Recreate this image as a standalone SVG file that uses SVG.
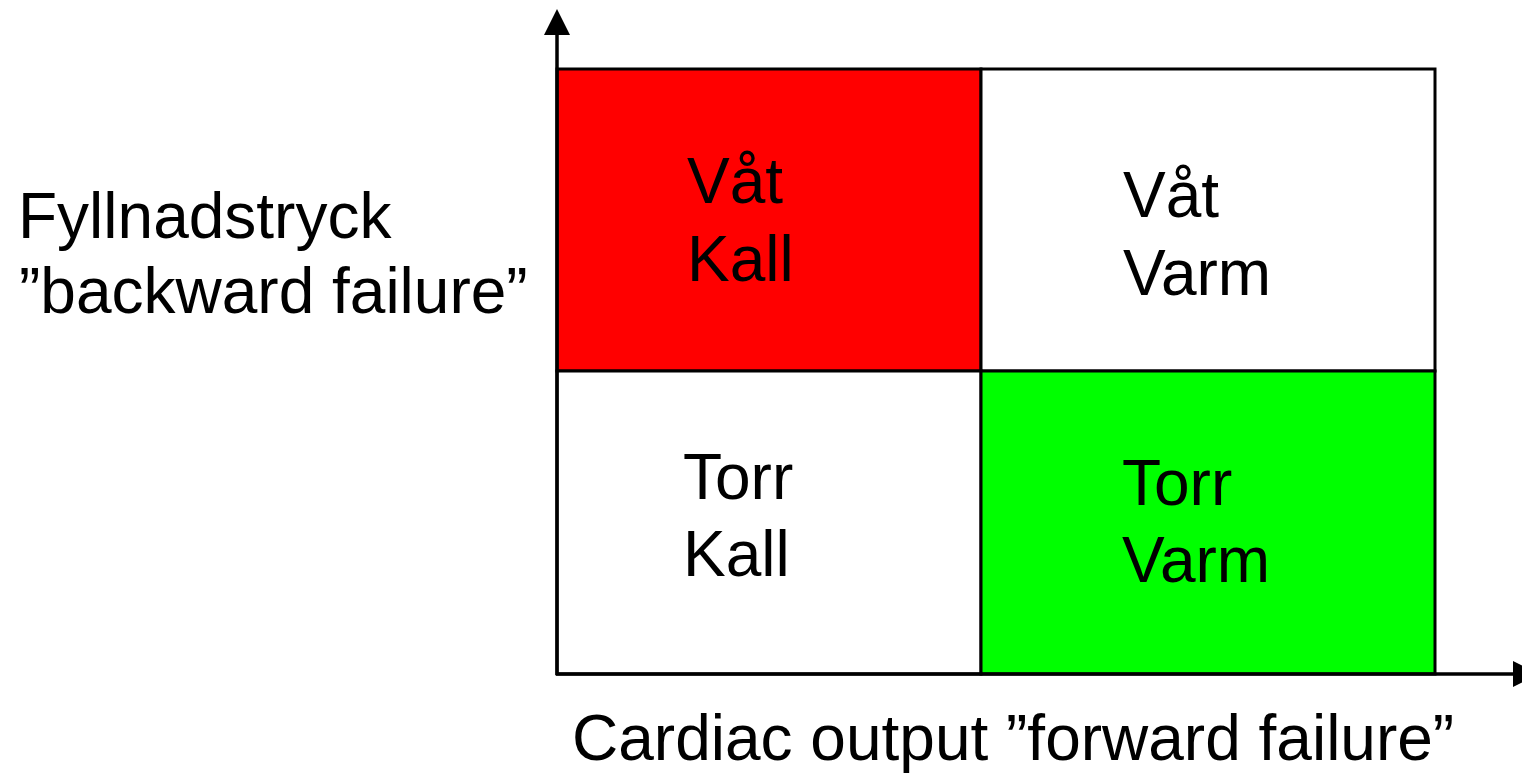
<svg xmlns="http://www.w3.org/2000/svg" width="1522" height="774" viewBox="0 0 1522 774">
  <style>
    .cell { stroke: #000; stroke-width: 3; }
    .lbl { font-family: "Liberation Sans", Arial, sans-serif; font-size: 64px; fill: #000; }
    .axis { stroke: #000; stroke-width: 3.5; fill: none; }
  </style>
  <defs>
    <marker id="arrow" viewBox="0 0 10 10" refX="0" refY="5" markerWidth="26" markerHeight="26" markerUnits="userSpaceOnUse" orient="auto">
      <path d="M0,0 L10,5 L0,10 Z" fill="#000"/>
    </marker>
  </defs>

  <!-- quadrant cells -->
  <g id="cell-wet-cold">
    <rect class="cell" x="557" y="69" width="424" height="302" fill="#ff0000"/>
    <text class="lbl" x="687" y="203">Våt</text>
    <text class="lbl" x="687" y="281">Kall</text>
  </g>
  <g id="cell-wet-warm">
    <rect class="cell" x="981" y="69" width="454" height="302" fill="#ffffff"/>
    <text class="lbl" x="1123" y="217">Våt</text>
    <text class="lbl" x="1123" y="295">Varm</text>
  </g>
  <g id="cell-dry-cold">
    <rect class="cell" x="557" y="371" width="424" height="303" fill="#ffffff"/>
    <text class="lbl" x="683" y="499">Torr</text>
    <text class="lbl" x="683" y="576">Kall</text>
  </g>
  <g id="cell-dry-warm">
    <rect class="cell" x="981" y="371" width="454" height="303" fill="#00ff00"/>
    <text class="lbl" x="1122" y="505">Torr</text>
    <text class="lbl" x="1122" y="582">Varm</text>
  </g>

  <!-- axes -->
  <g id="connectors">
    <line class="axis" x1="557" y1="675" x2="557" y2="35" marker-end="url(#arrow)"/>
    <line class="axis" x1="556" y1="674" x2="1513" y2="674" marker-end="url(#arrow)"/>
  </g>

  <!-- axis labels -->
  <g id="label-y">
    <text class="lbl" x="18" y="238">Fyllnadstryck</text>
    <text class="lbl" x="19" y="313">”backward failure”</text>
  </g>
  <g id="label-x">
    <text class="lbl" x="572" y="760">Cardiac output ”forward failure”</text>
  </g>
</svg>
